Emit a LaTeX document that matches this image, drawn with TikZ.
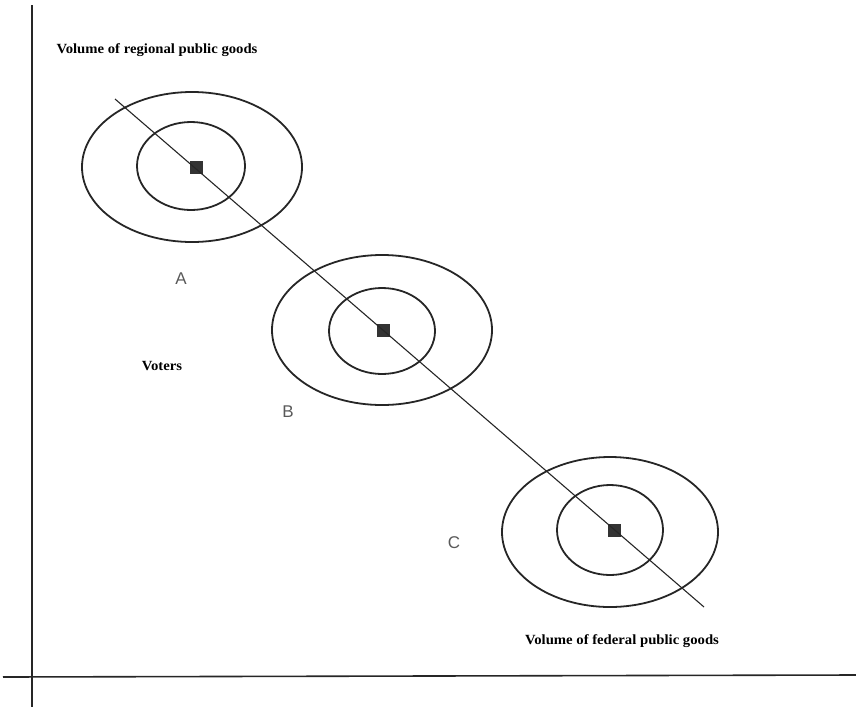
\documentclass[tikz,border=0pt]{standalone}
\usepackage{fontspec}
\setmainfont{Liberation Serif}
\newfontfamily\lettersans{Liberation Sans}
\begin{document}
\begin{tikzpicture}[x=1pt,y=-1pt,
  axis/.style={line width=1.6pt,black!85},
  ring/.style={line width=1.8pt,black!85},
  diag/.style={line width=1.1pt,black!85},
  ideal/.style={fill=black!80,minimum size=13pt,inner sep=0pt},
  lbl/.style={font=\bfseries\fontsize{14}{16}\selectfont,inner sep=0pt},
  letter/.style={font=\lettersans\fontsize{17}{19}\selectfont,text=black!65,inner sep=0pt}]
\useasboundingbox (0,0) rectangle (856,707);
% axes
\coordinate (ytop) at (32,5);
\coordinate (ybot) at (32,707);
\coordinate (xl) at (3,677);
\coordinate (xr) at (856,675);
\draw[axis] (ytop) -- (ybot);
\draw[axis] (xl) -- (xr);
% ellipses
\draw[ring] (192,167) ellipse [x radius=110,y radius=75];
\draw[ring] (191,166) ellipse [x radius=54,y radius=44];
\draw[ring] (382,330) ellipse [x radius=110,y radius=75];
\draw[ring] (382,331) ellipse [x radius=53,y radius=43];
\draw[ring] (610,532) ellipse [x radius=108,y radius=75];
\draw[ring] (610,530) ellipse [x radius=53,y radius=45];
% ideal points
\node[ideal] (pA) at (196,167) {};
\node[ideal] (pB) at (383,330) {};
\node[ideal] (pC) at (614,530) {};
% diagonal line
\coordinate (ls) at (115,99);
\coordinate (le) at (704,607);
\draw[diag] (ls) -- (le);
% labels
\node[lbl] (ylab) at (157,50) {\scalebox{1.05}[1]{Volume of regional public goods}};
\node[lbl] (vot) at (162,366) {\scalebox{1.05}[1]{Voters}};
\node[lbl] (xlab) at (622,641) {\scalebox{1.05}[1]{Volume of federal public goods}};
\node[letter] (A) at (181,279) {A};
\node[letter] (B) at (288,412) {B};
\node[letter] (C) at (454,543) {C};
\end{tikzpicture}
\end{document}
